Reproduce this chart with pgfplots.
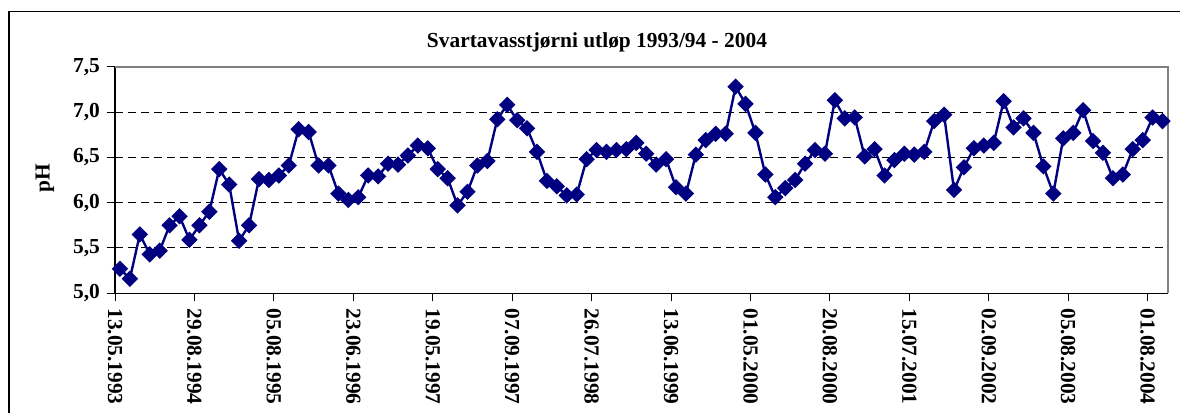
\documentclass[border=0pt]{standalone}
\usepackage{fontspec}
\setmainfont{Liberation Serif}
\usepackage{pgfplots}
\pgfplotsset{compat=1.18}
\usepackage{pgfplotstable}
\definecolor{navy}{RGB}{0,0,128}
\definecolor{framegray}{RGB}{128,128,128}
\pgfplotstableread{
x y
0 5.27
1 5.16
2 5.65
3 5.43
4 5.47
5 5.75
6 5.85
7 5.59
8 5.75
9 5.90
10 6.37
11 6.20
12 5.58
13 5.75
14 6.26
15 6.25
16 6.30
17 6.41
18 6.81
19 6.78
20 6.41
21 6.41
22 6.10
23 6.03
24 6.06
25 6.30
26 6.29
27 6.43
28 6.42
29 6.52
30 6.63
31 6.60
32 6.37
33 6.27
34 5.97
35 6.12
36 6.41
37 6.46
38 6.92
39 7.08
40 6.91
41 6.82
42 6.56
43 6.24
44 6.18
45 6.08
46 6.09
47 6.48
48 6.58
49 6.56
50 6.58
51 6.59
52 6.66
53 6.54
54 6.42
55 6.48
56 6.17
57 6.10
58 6.53
59 6.69
60 6.76
61 6.76
62 7.28
63 7.09
64 6.77
65 6.31
66 6.06
67 6.16
68 6.25
69 6.43
70 6.58
71 6.54
72 7.13
73 6.93
74 6.94
75 6.51
76 6.59
77 6.30
78 6.47
79 6.54
80 6.53
81 6.56
82 6.90
83 6.97
84 6.14
85 6.39
86 6.60
87 6.63
88 6.66
89 7.12
90 6.83
91 6.93
92 6.77
93 6.40
94 6.10
95 6.71
96 6.77
97 7.02
98 6.68
99 6.55
100 6.27
101 6.31
102 6.59
103 6.69
104 6.94
105 6.90
}\phdata

\begin{document}
\begin{tikzpicture}
\useasboundingbox (0,0) rectangle (590pt,206.5pt);
\draw[line width=0.6pt] (4.5pt,-20pt) -- (4.5pt,200.6pt) -- (620pt,200.6pt);
\begin{axis}[
  at={(57.5pt,59.85pt)}, anchor=south west,
  scale only axis, width=526.25pt, height=113.3pt,
  xmin=-0.5, xmax=105.5, ymin=5, ymax=7.5,
  axis x line*=bottom, axis y line*=left,
  axis line style={-, line width=0.7pt, black},
  xtick={-0.5,7.5,15.5,23.5,31.5,39.5,47.5,55.5,63.5,71.5,79.5,87.5,95.5,103.5},
  xticklabels={13.05.1993,29.08.1994,05.08.1995,23.06.1996,19.05.1997,07.09.1997,26.07.1998,13.06.1999,01.05.2000,20.08.2000,15.07.2001,02.09.2002,05.08.2003,01.08.2004},
  ytick={5,5.5,6,6.5,7,7.5},
  tick align=outside, major tick length=4pt,
  tick style={black, line width=0.5pt},
  ymajorgrids, major grid style={black, line width=0.5pt, dash pattern=on 4pt off 2.5pt},
  ticklabel style={font=\fontsize{10.7}{12}\selectfont\bfseries},
  /pgf/number format/.cd, fixed, fixed zerofill, precision=1, use comma, assume math mode=true,
  /pgfplots/.cd,
  x tick label style={rotate=-90, anchor=west},
  clip=false,
]
\addplot[navy, line width=1.2pt, mark=square*, mark size=2.3pt, mark options={rotate=45, solid, fill=navy}] table[x=x,y=y] {\phdata};
\draw[framegray, line width=1pt] (rel axis cs:0,1) -- (rel axis cs:1,1) -- (rel axis cs:1,0);
\end{axis}
\node[font=\fontsize{10.7}{12}\selectfont\bfseries] at (298.5pt,185.5pt) {Svartavasstjørni utløp 1993/94 - 2004};
\node[rotate=90,font=\fontsize{10.7}{12}\selectfont\bfseries] at (22.5pt,117.5pt) {pH};
\end{tikzpicture}
\end{document}
